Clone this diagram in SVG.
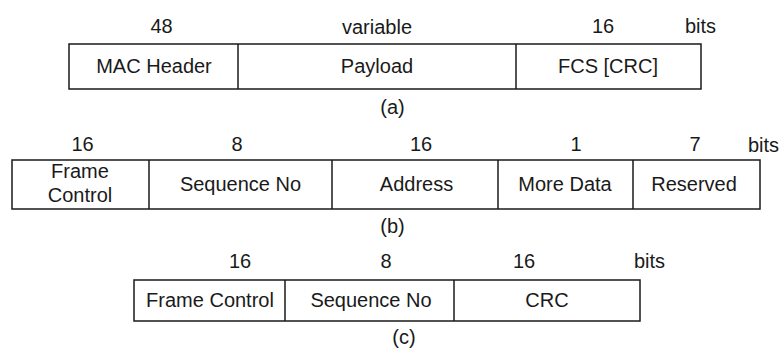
<svg xmlns="http://www.w3.org/2000/svg" width="781" height="352" viewBox="0 0 781 352">
<style>
  .box { fill: #ffffff; stroke: #1a1a1a; stroke-width: 1.5; }
  .div { stroke: #1a1a1a; stroke-width: 1.5; }
  text { font-family: "Liberation Sans", Arial, sans-serif; font-size: 20px; fill: #1a1a1a; }
  .c { text-anchor: middle; }
</style>
<rect width="781" height="352" fill="#ffffff"/>

<g id="frame-a">
  <rect class="box" x="69" y="44" width="632" height="45"/>
  <line class="div" x1="238" y1="44" x2="238" y2="89"/>
  <line class="div" x1="516" y1="44" x2="516" y2="89"/>
  <text class="c" x="161.5" y="33">48</text>
  <text class="c" x="377" y="33.5">variable</text>
  <text class="c" x="603" y="33">16</text>
  <text x="685" y="33">bits</text>
  <g id="a-mac"><text class="c" x="154" y="73">MAC Header</text></g>
  <g id="a-payload"><text class="c" x="377" y="73">Payload</text></g>
  <g id="a-fcs"><text class="c" x="608" y="73">FCS [CRC]</text></g>
  <text class="c" x="392.5" y="114">(a)</text>
</g>

<g id="frame-b">
  <rect class="box" x="12" y="160" width="748" height="49"/>
  <line class="div" x1="149" y1="160" x2="149" y2="209"/>
  <line class="div" x1="332" y1="160" x2="332" y2="209"/>
  <line class="div" x1="498" y1="160" x2="498" y2="209"/>
  <line class="div" x1="633" y1="160" x2="633" y2="209"/>
  <text class="c" x="82.5" y="151">16</text>
  <text class="c" x="237" y="151">8</text>
  <text class="c" x="421" y="151">16</text>
  <text class="c" x="576" y="151">1</text>
  <text class="c" x="695" y="151">7</text>
  <text x="748" y="152">bits</text>
  <g id="b-fc"><text class="c" x="80" y="178">Frame</text><text class="c" x="80" y="202">Control</text></g>
  <g id="b-seq"><text class="c" x="240.5" y="191">Sequence No</text></g>
  <g id="b-addr"><text class="c" x="416.5" y="191">Address</text></g>
  <g id="b-more"><text class="c" x="565" y="191">More Data</text></g>
  <g id="b-res"><text class="c" x="694" y="191">Reserved</text></g>
  <text class="c" x="392.5" y="233">(b)</text>
</g>

<g id="frame-c">
  <rect class="box" x="134" y="280" width="506" height="41"/>
  <line class="div" x1="285" y1="280" x2="285" y2="321"/>
  <line class="div" x1="454" y1="280" x2="454" y2="321"/>
  <text class="c" x="240" y="268">16</text>
  <text class="c" x="386" y="268">8</text>
  <text class="c" x="524" y="268">16</text>
  <text x="634" y="268">bits</text>
  <g id="c-fc"><text class="c" x="210" y="307">Frame Control</text></g>
  <g id="c-seq"><text class="c" x="371" y="307">Sequence No</text></g>
  <g id="c-crc"><text class="c" x="547" y="307">CRC</text></g>
  <text class="c" x="404" y="344">(c)</text>
</g>

<g id="connectors"></g>
</svg>
